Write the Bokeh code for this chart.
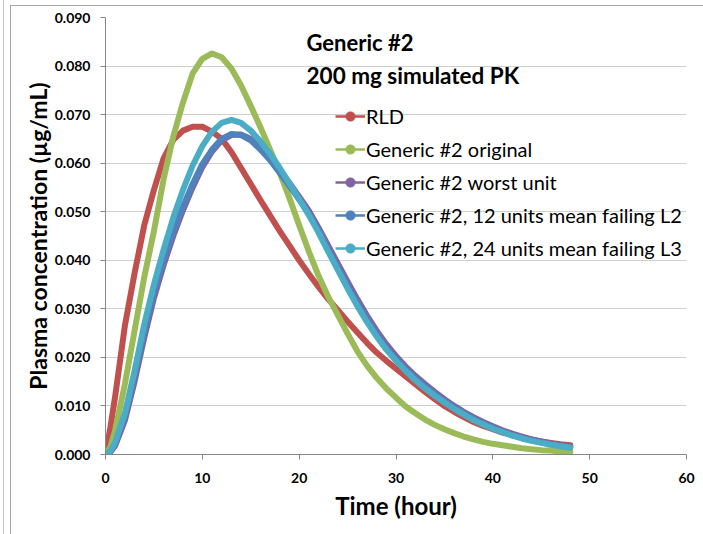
from bokeh.plotting import figure
from bokeh.models import (Legend, LegendItem, Label, FixedTicker, NumeralTickFormatter,
                          Range1d, InlineStyleSheet)
from bokeh.embed import file_html
from bokeh.resources import INLINE

# ---- data ----
time_h = [0, 0.5] + list(range(1, 49))

rld = [0, 0.0055, 0.0120, 0.0265, 0.0373, 0.0472, 0.0545, 0.0610, 0.0648, 0.0667,
       0.0675, 0.0675, 0.0665, 0.0650, 0.0623, 0.0590, 0.0557, 0.0524, 0.0492, 0.0460,
       0.0430, 0.0400, 0.0372, 0.0345, 0.0320, 0.0297, 0.0274, 0.0252, 0.0230, 0.0210,
       0.0193, 0.0177, 0.0161, 0.0145, 0.0129, 0.0114, 0.0100, 0.0088, 0.0077, 0.0067,
       0.0059, 0.0052, 0.0045, 0.0040, 0.0035, 0.0031, 0.0027, 0.0024, 0.0021, 0.0019]

gen_original = [0, 0.0015, 0.0050, 0.0145, 0.0255, 0.0365, 0.0460, 0.0567, 0.0655, 0.0725,
                0.0785, 0.0815, 0.0826, 0.0818, 0.0795, 0.0760, 0.0718, 0.0674, 0.0628, 0.0580,
                0.0528, 0.0472, 0.0418, 0.0368, 0.0325, 0.0287, 0.0249, 0.0213, 0.0183, 0.0158,
                0.0136, 0.0117, 0.0099, 0.0085, 0.0072, 0.0061, 0.0052, 0.0044, 0.0037, 0.0031,
                0.0026, 0.0022, 0.0019, 0.0016, 0.0013, 0.0011, 0.0009, 0.0008, 0.0006, 0.0005]

gen_worst = [0, 0.0005, 0.0018, 0.0070, 0.0150, 0.0240, 0.0322, 0.0390, 0.0450, 0.0503,
             0.0550, 0.0592, 0.0624, 0.0647, 0.0658, 0.0659, 0.0650, 0.0633, 0.0611, 0.0586,
             0.0559, 0.0531, 0.0502, 0.0467, 0.0430, 0.0393, 0.0356, 0.0320, 0.0286, 0.0255,
             0.0227, 0.0203, 0.0181, 0.0162, 0.0145, 0.0129, 0.0114, 0.0100, 0.0088, 0.0077,
             0.0067, 0.0058, 0.0050, 0.0043, 0.0037, 0.0031, 0.0027, 0.0023, 0.0019, 0.0016]

gen_12 = [0, 0.0006, 0.0022, 0.0078, 0.0162, 0.0252, 0.0333, 0.0400, 0.0458, 0.0510,
          0.0557, 0.0598, 0.0628, 0.0650, 0.0660, 0.0658, 0.0647, 0.0628, 0.0606, 0.0580,
          0.0553, 0.0525, 0.0496, 0.0462, 0.0422, 0.0385, 0.0347, 0.0312, 0.0278, 0.0248,
          0.0220, 0.0197, 0.0176, 0.0157, 0.0140, 0.0125, 0.0110, 0.0097, 0.0085, 0.0074,
          0.0064, 0.0055, 0.0047, 0.0040, 0.0034, 0.0029, 0.0025, 0.0021, 0.0018, 0.0015]

gen_24 = [0, 0.0007, 0.0025, 0.0085, 0.0172, 0.0268, 0.0350, 0.0422, 0.0488, 0.0545,
          0.0595, 0.0635, 0.0665, 0.0683, 0.0689, 0.0683, 0.0667, 0.0645, 0.0619, 0.0590,
          0.0558, 0.0526, 0.0493, 0.0457, 0.0418, 0.0380, 0.0342, 0.0306, 0.0273, 0.0243,
          0.0216, 0.0193, 0.0172, 0.0153, 0.0136, 0.0121, 0.0107, 0.0094, 0.0082, 0.0071,
          0.0062, 0.0053, 0.0046, 0.0039, 0.0033, 0.0028, 0.0024, 0.0020, 0.0017, 0.0014]

series_names = ["RLD", "Generic #2 original", "Generic #2 worst unit",
                "Generic #2, 12 units mean failing L2", "Generic #2, 24 units mean failing L3"]
series_values = [rld, gen_original, gen_worst, gen_12, gen_24]
series_colors = ["#C0504D", "#9BBB59", "#8064A2", "#4F81BD", "#4BACC6"]

x_ticks = [0, 10, 20, 30, 40, 50, 60]
y_ticks = [0.0, 0.01, 0.02, 0.03, 0.04, 0.05, 0.06, 0.07, 0.08, 0.09]

title_lines = ["Generic #2", "200 mg simulated PK"]
x_label = "Time (hour)"
y_label = "Plasma concentration (\u00b5g/mL)"

FONT = "Lato"

css = InlineStyleSheet(css="""
:host { position: relative; }
:host::after { content: ''; position: absolute; left: 10px; top: 5px; right: -20px; bottom: -20px;
  border-left: 1px solid #A6A6A6; border-top: 1px solid #A6A6A6; pointer-events: none; z-index: 10; }
:host::before { content: ''; position: absolute; left: 3px; top: 0px; width: 0px; bottom: 0px;
  border-left: 1px solid #C8C8C8; pointer-events: none; z-index: 10; }
""")

p = figure(width=703, height=534, output_backend="svg", toolbar_location=None,
           x_range=Range1d(0, 60), y_range=Range1d(0, 0.09),
           min_border_left=105, min_border_right=17, min_border_top=17, min_border_bottom=80,
           stylesheets=[css])
p.background_fill_color = "white"
p.border_fill_color = "white"
p.outline_line_color = None

for vals, col in zip(series_values, series_colors):
    p.line(time_h, vals, line_color=col, line_width=6, line_join="round", line_cap="round")

# legend with thinner proxy glyphs (placed outside the visible ranges)
items = []
for name, col in zip(series_names, series_colors):
    r1 = p.line([-10, -9], [-1, -1], line_color=col, line_width=2.5)
    r2 = p.scatter([-10], [-1], marker="circle", size=3, fill_color=col, line_color=col,
                   line_width=0.5)
    items.append(LegendItem(label=name, renderers=[r1, r2]))

legend = Legend(items=items, location=(230, 194), orientation="vertical",
                border_line_alpha=0, background_fill_alpha=0, padding=0, margin=0,
                spacing=9, glyph_width=30, glyph_height=24, label_height=24,
                label_standoff=1, label_text_font=FONT, label_text_font_size="20px",
                label_text_color="#000000", label_text_baseline="middle")
p.add_layout(legend)

# title lines
p.add_layout(Label(x=20.76, y=0.0849, text=title_lines[0], text_font=FONT,
                   text_font_size="22px", text_font_style="bold", text_color="#000000",
                   text_baseline="middle"))
p.add_layout(Label(x=20.76, y=0.0781, text=title_lines[1], text_font=FONT,
                   text_font_size="22.5px", text_font_style="bold", text_color="#000000",
                   text_baseline="middle"))

# axes
p.xaxis.ticker = FixedTicker(ticks=x_ticks)
p.yaxis.ticker = FixedTicker(ticks=y_ticks)
p.yaxis.formatter = NumeralTickFormatter(format="0.000")
for ax in (p.xaxis[0], p.yaxis[0]):
    ax.axis_line_color = "#868686"
    ax.major_tick_line_color = "#868686"
    ax.major_tick_out = 5
    ax.major_tick_in = 0
    ax.minor_tick_line_color = None
    ax.major_label_text_font = FONT
    ax.major_label_text_font_size = "14px"
    ax.major_label_text_font_style = "bold"
    ax.major_label_text_color = "#000000"
    ax.axis_label_text_font = FONT
    ax.axis_label_text_font_style = "bold"
    ax.axis_label_text_color = "#000000"
p.xaxis.axis_label = x_label
p.yaxis.axis_label = y_label
p.xaxis.axis_label_text_font_size = "24px"
p.yaxis.axis_label_text_font_size = "23px"
p.xaxis.major_label_standoff = 13
p.xaxis.axis_label_standoff = 5
p.yaxis.major_label_standoff = 10
p.yaxis.axis_label_standoff = 0

p.xgrid.grid_line_color = None
p.ygrid.grid_line_color = "#D0D0D0"
p.ygrid.grid_line_width = 1

open("out.html", "w").write(file_html(p, INLINE))
